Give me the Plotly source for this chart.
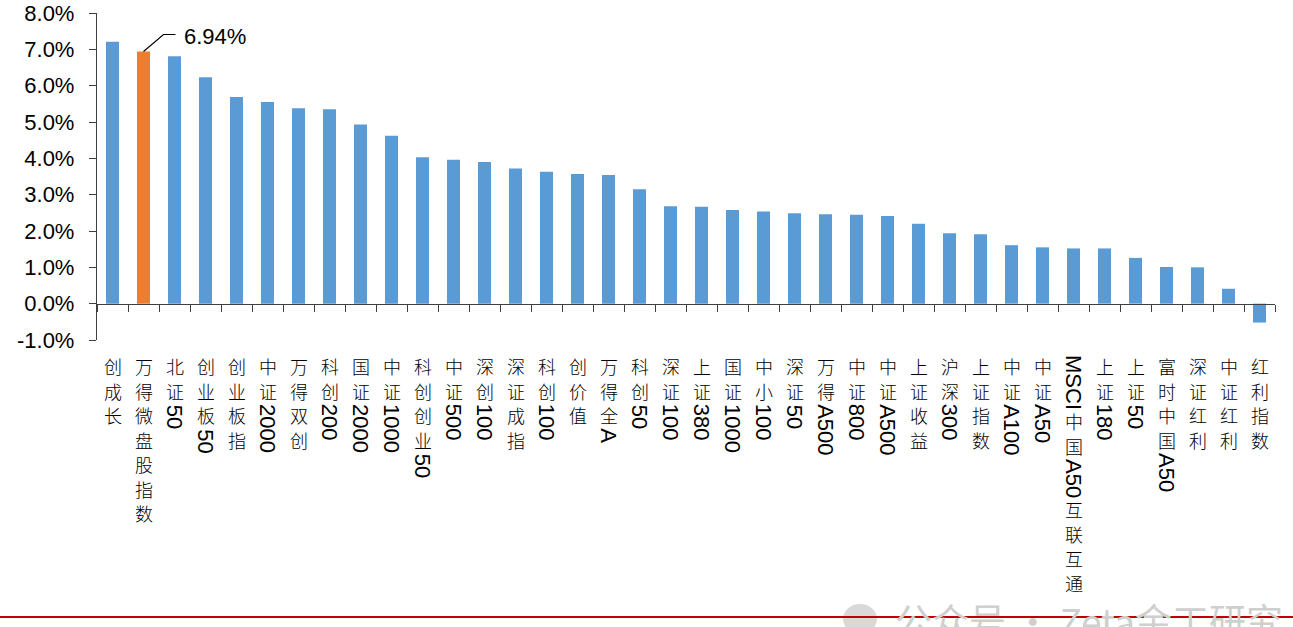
import plotly.graph_objects as go

# ---------------- data ----------------
categories = [
    "创成长", "万得微盘股指数", "北证50", "创业板50", "创业板指", "中证2000", "万得双创",
    "科创200", "国证2000", "中证1000", "科创创业50", "中证500", "深创100", "深证成指",
    "科创100", "创价值", "万得全A", "科创50", "深证100", "上证380", "国证1000", "中小100",
    "深证50", "万得A500", "中证800", "中证A500", "上证收益", "沪深300", "上证指数",
    "中证A100", "中证A50", "MSCI中国A50互联互通", "上证180", "上证50", "富时中国A50",
    "深证红利", "中证红利", "红利指数",
]
values = [
    7.21, 6.94, 6.81, 6.23, 5.69, 5.55, 5.38,
    5.35, 4.93, 4.62, 4.03, 3.96, 3.90, 3.72,
    3.63, 3.57, 3.54, 3.15, 2.68, 2.67, 2.58, 2.54,
    2.49, 2.46, 2.45, 2.41, 2.20, 1.94, 1.91,
    1.61, 1.55, 1.52, 1.52, 1.26, 1.01,
    1.00, 0.41, -0.52,
]
highlight = "万得微盘股指数"
highlight_label = "6.94%"
y_ticks = [-1, 0, 1, 2, 3, 4, 5, 6, 7, 8]
y_tick_text = [f"{v:.1f}%" for v in y_ticks]
watermark = "公众号 · Zeta金工研究"

# ---------------- style ----------------
W, H = 1293, 627
ML, MR, MT, MB = 97, 18, 13, 287
PW, PH = W - ML - MR, H - MT - MB
BOTTOM = MT + PH  # figure-pixel y of the plot bottom
BLUE, ORANGE = "#5B9BD5", "#ED7D31"
AXIS = "#404040"
LATIN = "Arial, 'Liberation Sans', sans-serif"
CJK = "'Noto Sans CJK SC', 'Noto Sans CJK JP', sans-serif"
y_min, y_max = y_ticks[0], y_ticks[-1]

colors = [ORANGE if c == highlight else BLUE for c in categories]

fig = go.Figure(go.Bar(
    x=categories, y=values, marker=dict(color=colors, line=dict(width=0)),
    width=0.42, hoverinfo="x+y",
))

# ---------------- vertical category labels ----------------
ADV = {"0": .556, "1": .556, "2": .556, "3": .556, "4": .556, "5": .556,
       "6": .556, "7": .556, "8": .556, "9": .556, "A": .667, "M": .833,
       "S": .667, "C": .722, "I": .278}
LAT_SIZE = 22
CJK_SIZE = 18
CJK_PITCH = 24.5
START = 15  # px below plot bottom to first glyph top


def is_cjk(ch):
    return ord(ch) > 0x2E80


annotations = []
for cat in categories:
    runs = []
    for ch in cat:
        kind = is_cjk(ch)
        if runs and runs[-1][0] == kind and not kind:
            runs[-1][1] += ch
        else:
            runs.append([kind, ch])
    pos = START
    for kind, text in runs:
        if kind:
            h = CJK_PITCH
            annotations.append(dict(
                x=cat, xref="x", y=0, yref="paper", yanchor="middle", xanchor="center",
                yshift=-(pos + h / 2 - 1), text=text, showarrow=False,
                font=dict(family=CJK, size=CJK_SIZE, color="#000000", weight=300),
            ))
        else:
            h = sum(ADV.get(c, .6) for c in text) * LAT_SIZE
            annotations.append(dict(
                x=cat, xref="x", y=0, yref="paper", yanchor="middle", xanchor="center",
                yshift=-(pos + h / 2), text=text, showarrow=False, textangle=90,
                font=dict(family=LATIN, size=LAT_SIZE, color="#000000"),
            ))
        pos += h

# ---------------- highlight callout ----------------
hi = categories.index(highlight)
annotations.append(dict(
    x=highlight, xref="x", y=values[hi], yref="y", xanchor="left", yanchor="middle",
    xshift=38, yshift=15, text=highlight_label, showarrow=False,
    font=dict(family=LATIN, size=22, color="#000000"),
))
shapes = [dict(
    type="path", xref="x", yref="y", xsizemode="pixel", ysizemode="pixel",
    xanchor=highlight, yanchor=values[hi],
    path="M0,0 L20,17 L32,17", line=dict(color="#000000", width=1.2),
)]

# ---------------- watermark and red rule ----------------
rule_y = 617
annotations.append(dict(
    x=(893 - ML) / PW, xref="paper", y=0, yref="paper", xanchor="left", yanchor="middle",
    yshift=-(620 - BOTTOM), text=watermark, showarrow=False,
    font=dict(family=CJK, size=37, color="#cfcfcf"),
))
shapes.append(dict(
    type="line", xref="paper", yref="paper",
    x0=-ML / PW, x1=(W - ML) / PW,
    y0=-(rule_y - BOTTOM) / PH, y1=-(rule_y - BOTTOM) / PH,
    line=dict(color="#C00000", width=2),
))
shapes.append(dict(
    type="circle", xref="paper", yref="paper", xsizemode="pixel", ysizemode="pixel",
    xanchor=(860 - ML) / PW, yanchor=-(rule_y - BOTTOM) / PH,
    x0=-17, x1=17, y0=-17, y1=13, fillcolor="#d9d9d9", line=dict(width=0), layer="below",
))

fig.update_layout(
    width=W, height=H,
    margin=dict(l=ML, r=MR, t=MT, b=MB, pad=0, autoexpand=False),
    plot_bgcolor="white", paper_bgcolor="white",
    showlegend=False, bargap=0.58,
    annotations=annotations, shapes=shapes,
    xaxis=dict(
        type="category", range=[-0.5, len(categories) - 0.5],
        showline=True, linecolor=AXIS, linewidth=1.3,
        ticks="outside", tickson="boundaries", ticklen=7, tickcolor=AXIS, tickwidth=1.3,
        showticklabels=False, showgrid=False, zeroline=False,
        anchor="free", position=(0 - y_min) / (y_max - y_min),
    ),
    yaxis=dict(
        range=[y_min, y_max], tickvals=y_ticks, ticktext=y_tick_text,
        showline=True, linecolor=AXIS, linewidth=1.3,
        ticks="outside", ticklen=7, tickcolor=AXIS, tickwidth=1.3,
        showgrid=False, zeroline=False, ticklabelstandoff=10,
        ticklabeloverflow="allow",
        tickfont=dict(family=LATIN, size=22, color="#000000"),
    ),
)

fig.write_html(
    "out.html",
    config={"displayModeBar": False},
    post_script="document.body.style.margin='0';",
)
